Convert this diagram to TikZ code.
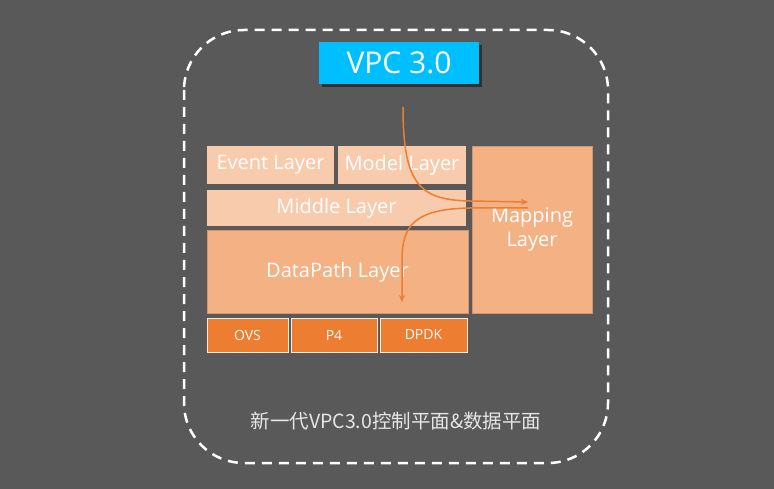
\documentclass[tikz,border=0pt]{standalone}
\usepackage{fontspec}
\setmainfont{Open Sans}
\newfontfamily\cjk{Noto Sans CJK SC}
\usetikzlibrary{arrows.meta,shadows}
\definecolor{bg}{HTML}{595959}
\definecolor{cyanbox}{HTML}{00BFFF}
\definecolor{peachlight}{HTML}{F8CBAD}
\definecolor{peach}{HTML}{F4B183}
\definecolor{orangebox}{HTML}{ED7D31}
\definecolor{captiongray}{HTML}{E6E6E6}
\newcommand{\lowtext}[1]{\raisebox{-2.5pt}{#1}}
\tikzset{
  layerbox/.style={rectangle, inner sep=0pt, text=white, font=\fontsize{20}{24}\selectfont, align=center},
  lightlayer/.style={layerbox, fill=peachlight},
  midlayer/.style={layerbox, fill=peach, draw=peach!85!black, line width=0.6pt},
  backendbox/.style={rectangle, inner sep=0pt, fill=orangebox, draw=white!85!orangebox, line width=1pt, text=white, font=\fontsize{14}{16}\selectfont},
  flowarrow/.style={draw=orangebox, line width=1.5pt, -{Stealth[length=7pt,width=6pt]}},
}
\begin{document}
\begin{tikzpicture}[x=1pt,y=-1pt]
\fill[bg] (0,0) rectangle (774,489);
\useasboundingbox (0,0) rectangle (774,489);
% outer dashed frame
\draw[white, line width=2.5pt, dash pattern=on 10pt off 7pt, rounded corners=60pt] (184,30) rectangle (608,463);
% title
\fill[black, opacity=0.45] (322,45) rectangle (482,87);
\node[rectangle, fill=cyanbox, inner sep=0pt, minimum width=160pt, minimum height=42pt, text=white, font=\fontsize{30}{32}\selectfont] (vpc) at (399,63) {VPC 3.0};
% layers
\node[lightlayer, minimum width=127pt, minimum height=38pt] (event) at (270.5,165) {\lowtext{Event Layer}};
\node[lightlayer, minimum width=128pt, minimum height=38pt] (model) at (402,165) {\lowtext{Model Layer}};
\node[lightlayer, minimum width=259pt, minimum height=36pt] (middle) at (336.5,208) {\lowtext{Middle Layer}};
\node[midlayer, minimum width=261pt, minimum height=83pt] (datapath) at (337.5,272) {\lowtext{DataPath Layer}};
\node[midlayer, minimum width=120pt, minimum height=167pt] (mapping) at (532,229.5) {\lowtext{Mapping}\\\lowtext{Layer}};
% backends
\node[backendbox, minimum width=81pt, minimum height=34pt] (ovs) at (247.5,335) {OVS};
\node[backendbox, minimum width=86pt, minimum height=34pt] (p4) at (334,335) {P4};
\node[backendbox, minimum width=87pt, minimum height=34pt] (dpdk) at (423.5,335) {DPDK};
% flows
\coordinate (a1s) at (403,107);
\coordinate (a1e) at (528,202);
\coordinate (a2s) at (528,208);
\coordinate (a2e) at (402,302);
\draw[flowarrow] (a1s) .. controls (403,185) and (420,200) .. (470,201) -- (a1e);
\draw[flowarrow] (a2s) -- (470,208) .. controls (415,209) and (402,225) .. (402,260) -- (a2e);
% caption
\node[text=captiongray, font=\cjk\fontsize{19.5}{22}\selectfont] (caption) at (396,421) {新一代VPC3.0控制平面\&数据平面};
\end{tikzpicture}
\end{document}
